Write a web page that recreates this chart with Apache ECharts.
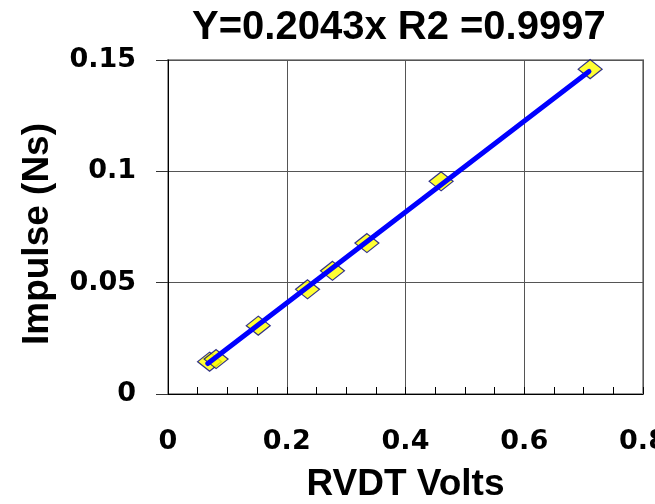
<!DOCTYPE html>
<html>
<head>
<meta charset="utf-8">
<script src="https://cdn.jsdelivr.net/npm/echarts@6/dist/echarts.min.js"></script>
<style>
  html, body { margin: 0; padding: 0; background: #fff; }
  #chart { width: 655px; height: 504px; }
</style>
</head>
<body>
<div id="chart"></div>
<script>
// measured points (RVDT volts vs impulse)
var voltsData = [0.070, 0.081, 0.152, 0.235, 0.277, 0.335, 0.460, 0.711];
var impulseData = [0.0145, 0.0157, 0.0307, 0.047, 0.0553, 0.0678, 0.0955, 0.1459];
// trendline through the origin, slope from the title
var slope = 0.2043;
var trendX = [0.067, 0.709];
var xTickLabels = ['0', '0.2', '0.4', '0.6', '0.8'];
var yTickLabels = ['0', '0.05', '0.1', '0.15'];

var chartDom = document.getElementById('chart');
var myChart = echarts.init(chartDom);

var points = voltsData.map(function (v, i) { return [v, impulseData[i]]; });
var trend = trendX.map(function (v) { return [v, slope * v]; });

var tickFont = { fontFamily: 'DejaVu Sans', fontWeight: 'bold', fontSize: 27, color: '#000' };
var nameFont = { fontFamily: 'Liberation Sans', fontWeight: 'bold', fontSize: 37, color: '#000' };

var option = {
  backgroundColor: '#fff',
  animation: false,
  title: {
    text: 'Y=0.2043x R2 =0.9997',
    left: 187,
    top: 3,
    textStyle: { fontFamily: 'Liberation Sans', fontWeight: 'bold', fontSize: 40, color: '#000' }
  },
  grid: {
    left: 168,
    right: 12,
    top: 60,
    bottom: 110,
    containLabel: false,
    outerBoundsMode: 'none',
    show: true,
    borderColor: '#999',
    borderWidth: 2
  },
  xAxis: {
    type: 'value',
    min: 0,
    max: 0.8,
    interval: 0.2,
    name: 'RVDT Volts',
    nameLocation: 'middle',
    nameGap: 72,
    nameMoveOverlap: false,
    nameTextStyle: nameFont,
    axisLine: { show: true, lineStyle: { color: '#000', width: 1 } },
    axisTick: { show: true, inside: true, length: 7, lineStyle: { color: '#000' } },
    minorTick: { show: true, splitNumber: 4, length: 7, lineStyle: { color: '#000' } },
    splitLine: { show: true, lineStyle: { color: '#555', width: 1 } },
    axisLabel: Object.assign({
      margin: 34,
      formatter: function (v) { return xTickLabels[Math.round(v / 0.2)]; }
    }, tickFont)
  },
  yAxis: {
    type: 'value',
    min: 0,
    max: 0.15,
    interval: 0.05,
    name: 'Impulse (Ns)',
    nameLocation: 'middle',
    nameGap: 112,
    nameMoveOverlap: false,
    nameTextStyle: Object.assign({ padding: [0, 14, 0, 0] }, nameFont),
    axisLine: { show: true, lineStyle: { color: '#000', width: 1 } },
    axisTick: { show: true, inside: false, length: 12, lineStyle: { color: '#333' } },
    splitLine: { show: true, lineStyle: { color: '#555', width: 1 } },
    axisLabel: Object.assign({
      margin: 32,
      formatter: function (v) { return yTickLabels[Math.round(v / 0.05)]; }
    }, tickFont)
  },
  series: [
    {
      name: 'Impulse',
      type: 'scatter',
      data: points,
      symbol: 'diamond',
      symbolSize: [24, 19],
      itemStyle: { color: '#ffff00', borderColor: '#000080', borderWidth: 1.2 },
      z: 2
    },
    {
      name: 'Trend',
      type: 'line',
      data: trend,
      showSymbol: false,
      lineStyle: { color: '#0000ff', width: 5, cap: 'round' },
      z: 3
    }
  ]
};

option && myChart.setOption(option);
</script>
</body>
</html>
